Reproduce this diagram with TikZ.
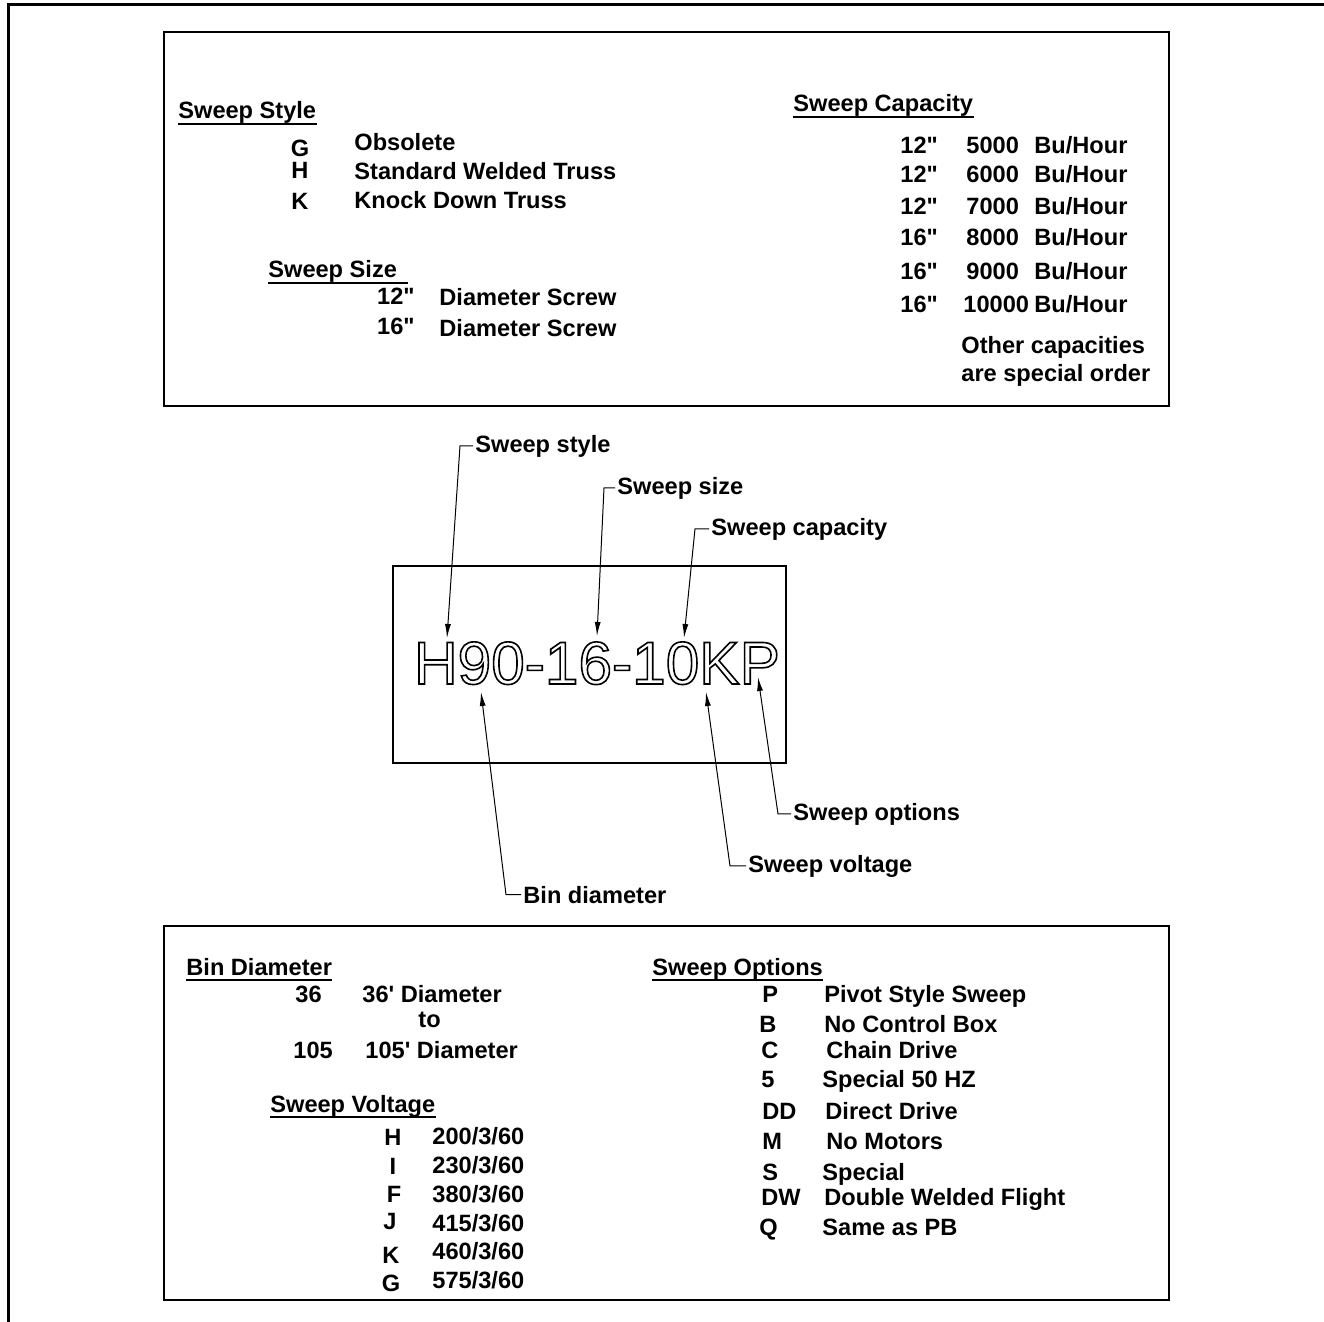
\documentclass[tikz,border=0pt]{standalone}
\usepackage{fontspec}
\newfontfamily\arialfont{Liberation Sans}
\usetikzlibrary{arrows.meta}
\tikzstyle{frame}=[line width=1.5pt]
\tikzstyle{tbox}=[draw, line width=1.3pt]
\tikzstyle{txt}=[inner sep=0pt, anchor=base west, font=\arialfont\bfseries\fontsize{11.8}{14}\selectfont]
\tikzstyle{ctxt}=[txt, anchor=base]
\tikzstyle{uline}=[line width=1pt]
\tikzstyle{pointer}=[-{Latex[length=7pt,width=3pt]}, line width=0.5pt]
% hollow letters: text render mode 1 (stroke only)
\newcommand{\hollow}[1]{\special{pdf:literal direct 1 Tr 0.8 w}#1\special{pdf:literal direct 0 Tr}}

\begin{document}
\begin{tikzpicture}[x=0.5pt,y=-0.5pt]
\useasboundingbox (0,0) rectangle (1324,1322);
\draw[frame] (1324,5) -- (8,5) -- (8,1322);
\draw[tbox] (164,32) rectangle (1169,406);
\draw[tbox] (393,566) rectangle (786,763);
\draw[tbox] (164,926) rectangle (1169,1300);
% sweep style
\node[txt] (hstyle) at (178,119) {Sweep Style};
\draw[uline] ([yshift=-2.5pt]hstyle.base west) -- ([yshift=-2.5pt]hstyle.base east);
\node[ctxt] (sG) at (300,157) {G};
\node[ctxt] (sH) at (300,179) {H};
\node[ctxt] (sK) at (300,210) {K};
\node[txt] (dG) at (354,151) {Obsolete};
\node[txt] (dH) at (354,180) {Standard Welded Truss};
\node[txt] (dK) at (354,209) {Knock Down Truss};
% sweep size
\node[txt] (hsize) at (268,278) {Sweep Size\ \,};
\draw[uline] ([yshift=-2.5pt]hsize.base west) -- ([yshift=-2.5pt]hsize.base east);
\node[txt, anchor=base east] (z12) at (415,305) {12"};
\node[txt, anchor=base east] (z16) at (415,335) {16"};
\node[txt] (dz12) at (439,306) {Diameter Screw};
\node[txt] (dz16) at (439,336) {Diameter Screw};
% sweep capacity
\node[txt] (hcap) at (793,112) {Sweep Capacity};
\draw[uline] ([yshift=-2.5pt]hcap.base west) -- ([yshift=-2.5pt]hcap.base east);
\node[txt] (c1) at (900,154) {12"};
\node[txt] (c2) at (900,183) {12"};
\node[txt] (c3) at (900,214) {12"};
\node[txt] (c4) at (900,246) {16"};
\node[txt] (c5) at (900,279) {16"};
\node[txt] (c6) at (900,312) {16"};
\node[txt] (n1) at (966,154) {5000};
\node[txt] (n2) at (966,183) {6000};
\node[txt] (n3) at (966,214) {7000};
\node[txt] (n4) at (966,246) {8000};
\node[txt] (n5) at (966,279) {9000};
\node[txt] (n6) at (963,312) {10000};
\node[txt] (b1) at (1034,154) {Bu/Hour};
\node[txt] (b2) at (1034,183) {Bu/Hour};
\node[txt] (b3) at (1034,214) {Bu/Hour};
\node[txt] (b4) at (1034,246) {Bu/Hour};
\node[txt] (b5) at (1034,279) {Bu/Hour};
\node[txt] (b6) at (1034,312) {Bu/Hour};
\node[txt] (oth1) at (961,353) {Other capacities};
\node[txt] (oth2) at (961,381) {are special order};
% model number
\node[inner sep=0pt, anchor=base, font=\arialfont\fontsize{30.2}{31}\selectfont] (code) at (597,684) {\hollow{H90-16-10KP}};
\coordinate (tH) at (447,638);
\coordinate (t16) at (597,636);
\coordinate (t10) at (684,638);
\coordinate (t90) at (481,692);
\coordinate (tK) at (706,692);
\coordinate (tP) at (758,677);
\node[txt] (lstyle) at (475,452) {Sweep style};
\node[txt] (lsize) at (617,494) {Sweep size};
\node[txt] (lcap) at (711,535) {Sweep capacity};
\node[txt] (lbin) at (523,903) {Bin diameter};
\node[txt] (lvolt) at (748,872) {Sweep voltage};
\node[txt] (lopt) at (793,820) {Sweep options};
\draw[pointer] ([xshift=-1pt]lstyle.west) -- ++(-13,0) -- (tH);
\draw[pointer] ([xshift=-1pt]lsize.west) -- ++(-11,0) -- (t16);
\draw[pointer] ([xshift=-1pt]lcap.west) -- ++(-14,0) -- (t10);
\draw[pointer] ([xshift=-1pt]lbin.west) -- ++(-15,0) -- (t90);
\draw[pointer] ([xshift=-1pt]lvolt.west) -- ++(-16,0) -- (tK);
\draw[pointer] ([xshift=-1pt]lopt.west) -- ++(-13,0) -- (tP);
% bin diameter
\node[txt] (hbin) at (186,975) {Bin Diameter};
\draw[uline] ([yshift=-2.5pt]hbin.base west) -- ([yshift=-2.5pt]hbin.base east);
\node[txt] (d36) at (295,1002) {36};
\node[txt] (dd36) at (362,1002) {36' Diameter};
\node[txt] (dto) at (418,1027) {to};
\node[txt] (d105) at (293,1058) {105};
\node[txt] (dd105) at (365,1058) {105' Diameter};
% sweep voltage
\node[txt] (hvolt) at (270,1112) {Sweep Voltage};
\draw[uline] ([yshift=-2.5pt]hvolt.base west) -- ([yshift=-2.5pt]hvolt.base east);
\node[ctxt] (vH) at (393,1145) {H};
\node[ctxt] (vI) at (393,1174) {I};
\node[ctxt] (vF) at (394,1202) {F};
\node[ctxt] (vJ) at (390,1229) {J};
\node[ctxt] (vK) at (391,1263) {K};
\node[ctxt] (vG) at (391,1291) {G};
\node[txt] (v200) at (432,1144) {200/3/60};
\node[txt] (v230) at (432,1173) {230/3/60};
\node[txt] (v380) at (432,1202) {380/3/60};
\node[txt] (v415) at (432,1231) {415/3/60};
\node[txt] (v460) at (432,1259) {460/3/60};
\node[txt] (v575) at (432,1288) {575/3/60};
% sweep options
\node[txt] (hopt) at (652,975) {Sweep Options};
\draw[uline] ([yshift=-2.5pt]hopt.base west) -- ([yshift=-2.5pt]hopt.base east);
\node[txt] (oP) at (762,1002) {P};
\node[txt] (oB) at (759,1032) {B};
\node[txt] (oC) at (761,1058) {C};
\node[txt] (o5) at (761,1087) {5};
\node[txt] (oDD) at (762,1119) {DD};
\node[txt] (oM) at (762,1149) {M};
\node[txt] (oS) at (762,1180) {S};
\node[txt] (oDW) at (761,1205) {DW};
\node[txt] (oQ) at (759,1235) {Q};
\node[txt] (pP) at (824,1002) {Pivot Style Sweep};
\node[txt] (pB) at (824,1032) {No Control Box};
\node[txt] (pC) at (826,1058) {Chain Drive};
\node[txt] (p5) at (822,1087) {Special 50 HZ};
\node[txt] (pDD) at (825,1119) {Direct Drive};
\node[txt] (pM) at (826,1149) {No Motors};
\node[txt] (pS) at (822,1180) {Special};
\node[txt] (pDW) at (824,1205) {Double Welded Flight};
\node[txt] (pQ) at (822,1235) {Same as PB};
\end{tikzpicture}
\end{document}
